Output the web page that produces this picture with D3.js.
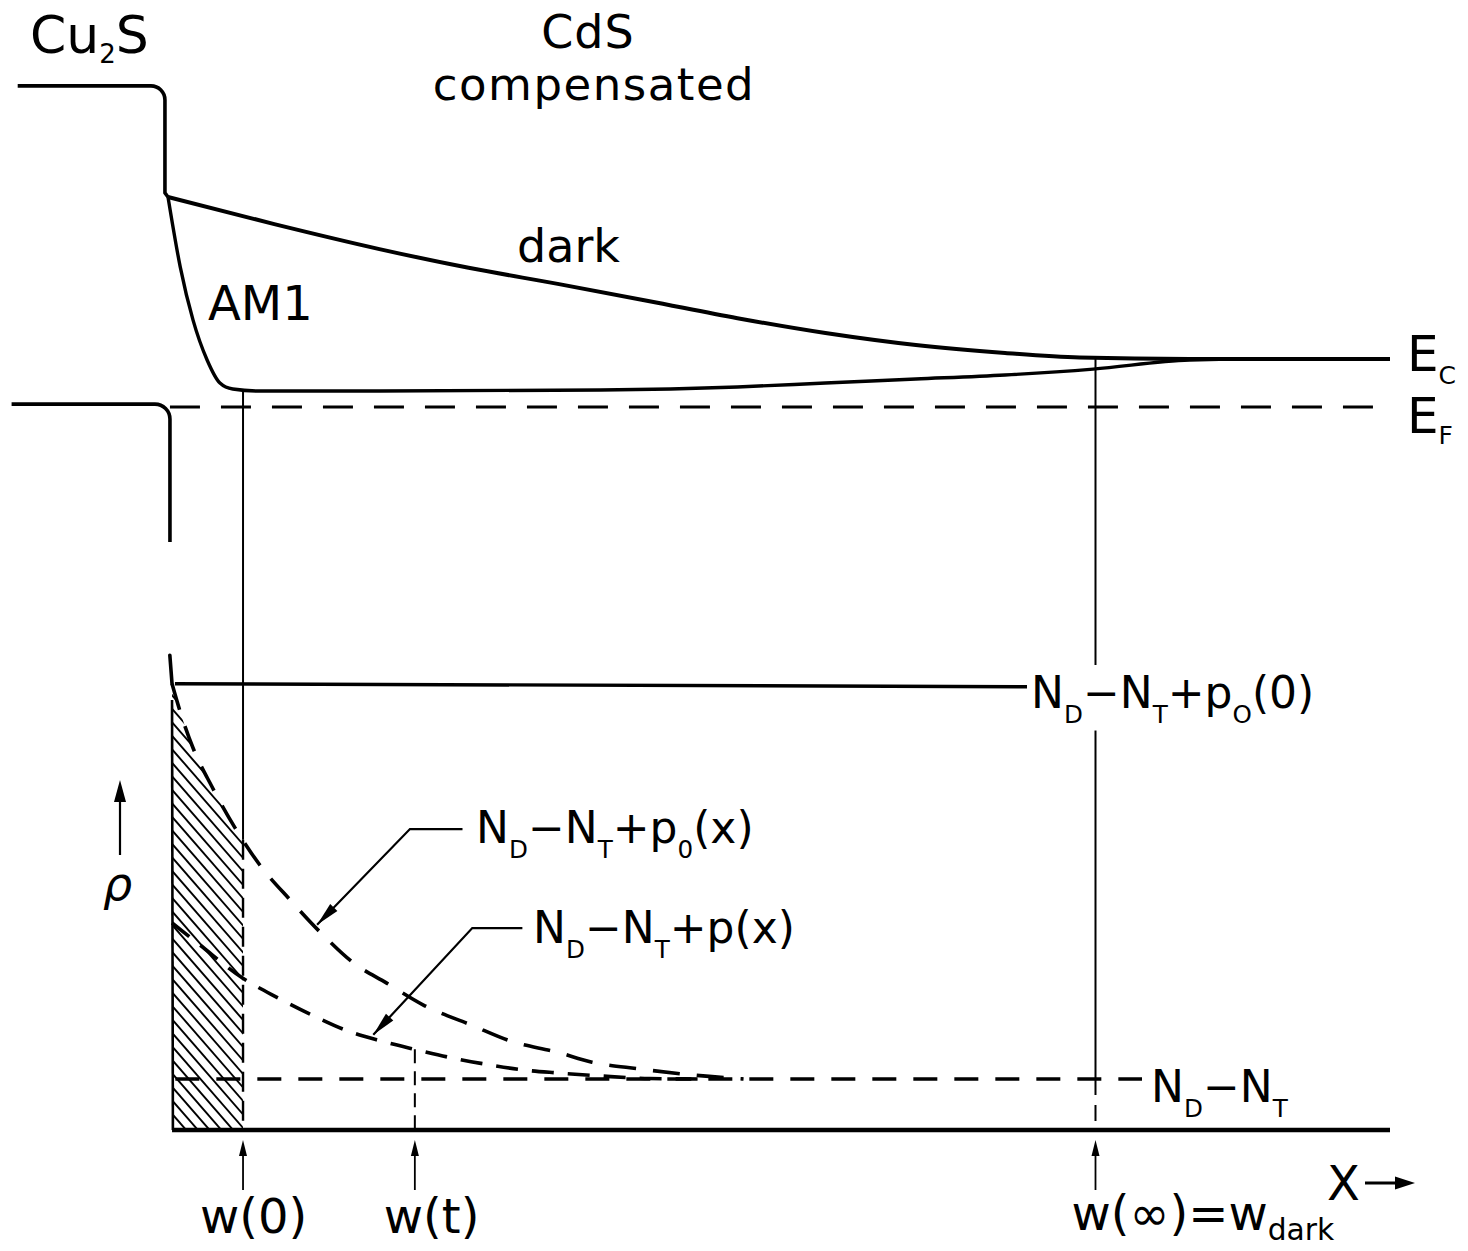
<!DOCTYPE html>
<html>
<head>
<meta charset="utf-8">
<script src="https://cdn.jsdelivr.net/npm/d3@7"></script>
<style>
  html, body { margin: 0; padding: 0; background: #fff; }
  svg { display: block; font-family: "DejaVu Sans", sans-serif; }
</style>
</head>
<body>
<svg id="chart" width="1468" height="1251"></svg>
<script>
// Depth coordinate: 0 = Cu2S/CdS interface, 100 = right end of the drawing.
// Energies are in units of (Ec - EF) of neutral CdS, with EF = 0.
const darkBand = [[0,4.375],[8.7,3.81],[17.3,3.29],[24.6,2.90],[32.0,2.56],[39.3,2.21],[46.6,1.85],
                  [53.8,1.54],[61.2,1.29],[68.5,1.125],[74.6,1.03],[83.6,1.0],[100,1.0]];
const am1Band = [[0,4.375],[1.0,2.92],[2.05,1.81],[3.2,0.98],[4.25,0.50],[5.3,0.375],[7.5,0.333],
                 [17.3,0.333],[35.4,0.354],[46.6,0.417],[53.8,0.5],[61.2,0.583],[68.5,0.667],
                 [75.7,0.79],[83.6,0.98],[88.5,1.0],[100,1.0]];
const cu2sUpper = [[-12.3,6.69],[-0.25,6.69],[-0.25,4.46]];
const cu2sLower = [[-12.8,0.06],[0.16,0.06],[0.16,-2.81]];
const fermiLevel = 0;

// Space charge density, in units of N_D - N_T.
const p0Profile = [[0.33,8.75],[1.0,8.2],[2.05,7.49],[3.6,6.73],[5.5,5.92],[7.5,5.20],[10.0,4.51],
                   [12.7,3.82],[15.1,3.29],[17.9,2.88],[20.9,2.45],[24.8,2.06],[28.2,1.73],
                   [31.8,1.53],[34.7,1.33],[38.5,1.20],[42.9,1.08],[47.1,1.0]];
const pProfile = [[0.33,4.06],[2.6,3.63],[6.1,2.98],[9.0,2.59],[11.9,2.24],[14.3,1.98],[17.2,1.76],
                  [20.4,1.57],[23.3,1.41],[26.5,1.27],[29.0,1.18],[31.8,1.12],[35.4,1.06],
                  [39.4,1.01],[43.5,1.0]];
const interfaceSpike = [[0.15,9.31],[0.33,8.75]];
const surfaceDensity = 8.75;
const netDonors = 1;
const widthNames = ["w(0)", "w(t)", "w(∞)"];
const widthValues = [6.14, 20.2, 75.9];

const x  = d3.scaleLinear().domain([0, 100]).range([168, 1390]);
const yE = d3.scaleLinear().domain([0, 1]).range([407, 359]);
const yR = d3.scaleLinear().domain([0, 1]).range([1130, 1079]);

const svg = d3.select("#chart");
const g = svg.append("g");
const INK = "#000";

function at(series, xv) {
  const i = d3.bisector(d => d[0]).left(series, xv);
  if (i <= 0) return series[0][1];
  if (i >= series.length) return series[series.length - 1][1];
  const a = series[i - 1], b = series[i];
  return a[1] + (b[1] - a[1]) * (xv - a[0]) / (b[0] - a[0]);
}

function arrowHead(x1, y1, x2, y2, len, wid) {
  const ang = Math.atan2(y2 - y1, x2 - x1);
  const bx = x2 - len * Math.cos(ang), by = y2 - len * Math.sin(ang);
  const nx = -Math.sin(ang) * wid / 2, ny = Math.cos(ang) * wid / 2;
  g.append("path")
    .attr("d", `M${x2},${y2}L${bx + nx},${by + ny}L${bx - nx},${by - ny}Z`)
    .attr("fill", INK);
}

function rich(xp, yp, size, parts, opts = {}) {
  const t = g.append("text").attr("x", xp).attr("y", yp)
    .attr("font-size", size).attr("fill", INK);
  if (opts.anchor) t.attr("text-anchor", opts.anchor);
  if (opts.italic) t.attr("font-style", "italic");
  if (opts.spacing) t.attr("letter-spacing", opts.spacing);
  let inSub = false;
  const subSize = size * (opts.subScale || 0.56);
  const drop = size * (opts.drop || 0.33);
  parts.forEach(p => {
    const sub = typeof p !== "string";
    const ts = t.append("tspan").text(sub ? p.s : p);
    if (sub) ts.attr("font-size", subSize);
    if (sub && !inSub) ts.attr("dy", drop);
    if (!sub && inSub) ts.attr("dy", -drop);
    inSub = sub;
  });
  return t;
}

// ---------- band diagram ----------
const lineE = d3.line().x(d => x(d[0])).y(d => yE(d[1])).curve(d3.curveMonotoneX);

function cornerPath(pts, r, toward) {
  const P = pts.map(d => [x(d[0]), yE(d[1])]);
  const p = d3.path();
  p.moveTo(P[0][0], P[0][1]);
  p.arcTo(P[1][0], P[1][1], P[2][0], P[2][1], r);
  p.lineTo(P[2][0], P[2][1]);
  if (toward) p.lineTo(x(toward[0]), yE(toward[1]));
  return p.toString();
}

g.append("path").attr("d", cornerPath(cu2sUpper, 14, darkBand[0]))
  .attr("fill", "none").attr("stroke", INK).attr("stroke-width", 3.6).attr("stroke-linejoin", "round");
g.append("path").attr("d", cornerPath(cu2sLower, 15))
  .attr("fill", "none").attr("stroke", INK).attr("stroke-width", 3.6);

g.append("path").attr("d", lineE(darkBand))
  .attr("fill", "none").attr("stroke", INK).attr("stroke-width", 4);
g.append("path").attr("d", lineE(am1Band))
  .attr("fill", "none").attr("stroke", INK).attr("stroke-width", 3.4);

g.append("line")
  .attr("x1", x(0.16)).attr("x2", x(100))
  .attr("y1", yE(fermiLevel)).attr("y2", yE(fermiLevel))
  .attr("stroke", INK).attr("stroke-width", 2.8).attr("stroke-dasharray", "30 21");

// ---------- charge density ----------
const lineR = d3.line().x(d => x(d[0])).y(d => yR(d[1])).curve(d3.curveMonotoneX);

// hatched charge between the interface and w(0)
const defs = svg.append("defs");
defs.append("clipPath").attr("id", "clipW0").append("rect")
  .attr("x", x(0.33)).attr("y", 600)
  .attr("width", x(widthValues[0]) - x(0.33)).attr("height", yR(0) - 600);
defs.append("clipPath").attr("id", "clipP0").append("path")
  .attr("d", d3.area().x(d => x(d[0])).y0(yR(0)).y1(d => yR(d[1])).curve(d3.curveMonotoneX)(p0Profile));
const hatch = g.append("g").attr("clip-path", "url(#clipW0)")
  .append("g").attr("clip-path", "url(#clipP0)");
d3.range(-12, 40).forEach(k => {
  const x1 = x(0.33) - 10, y1 = yR(surfaceDensity) + k * 13.5;
  hatch.append("line").attr("x1", x1).attr("y1", y1)
    .attr("x2", x1 + 130).attr("y2", y1 + 130 * 1.15)
    .attr("stroke", INK).attr("stroke-width", 1.9);
});

// left boundary of the CdS charge region
g.append("line").attr("x1", x(0.33)).attr("x2", x(0.4))
  .attr("y1", yR(8.43)).attr("y2", yR(0))
  .attr("stroke", INK).attr("stroke-width", 2.6);
g.append("path").attr("d", d3.line().x(d => x(d[0])).y(d => yR(d[1]))(interfaceSpike))
  .attr("fill", "none").attr("stroke", INK).attr("stroke-width", 3.6).attr("stroke-linecap", "round");

// surface level N_D - N_T + p0(0)
g.append("line").attr("x1", x(0.57)).attr("x2", 1027)
  .attr("y1", yR(surfaceDensity)).attr("y2", yR(surfaceDensity) + 3)
  .attr("stroke", INK).attr("stroke-width", 3.4);

// N_D - N_T level
g.append("line").attr("x1", x(0.6)).attr("x2", 1142)
  .attr("y1", yR(netDonors)).attr("y2", yR(netDonors))
  .attr("stroke", INK).attr("stroke-width", 3.4).attr("stroke-dasharray", "24 17");

g.append("path").attr("d", lineR(p0Profile))
  .attr("fill", "none").attr("stroke", INK).attr("stroke-width", 3.6).attr("stroke-dasharray", "27 17");
g.append("path").attr("d", lineR(pProfile))
  .attr("fill", "none").attr("stroke", INK).attr("stroke-width", 3.6).attr("stroke-dasharray", "22 14");

// depletion edges
const w0 = widthValues[0], wt = widthValues[1], wd = widthValues[2];
g.append("line").attr("x1", x(w0)).attr("x2", x(w0))
  .attr("y1", yE(at(am1Band, w0))).attr("y2", yR(at(p0Profile, w0)))
  .attr("stroke", INK).attr("stroke-width", 2);
g.append("line").attr("x1", x(w0)).attr("x2", x(w0))
  .attr("y1", yR(at(p0Profile, w0))).attr("y2", yR(0))
  .attr("stroke", INK).attr("stroke-width", 2.4).attr("stroke-dasharray", "20 9");
g.append("line").attr("x1", x(wt)).attr("x2", x(wt))
  .attr("y1", yR(at(pProfile, wt))).attr("y2", yR(0))
  .attr("stroke", INK).attr("stroke-width", 2).attr("stroke-dasharray", "14 8");
g.append("line").attr("x1", x(wd)).attr("x2", x(wd))
  .attr("y1", yE(at(darkBand, wd))).attr("y2", yR(netDonors))
  .attr("stroke", INK).attr("stroke-width", 2);
g.append("line").attr("x1", x(wd)).attr("x2", x(wd))
  .attr("y1", yR(netDonors)).attr("y2", yR(0))
  .attr("stroke", INK).attr("stroke-width", 2).attr("stroke-dasharray", "16 10");

// x axis
g.append("line").attr("x1", x(0.33)).attr("x2", x(100))
  .attr("y1", yR(0)).attr("y2", yR(0))
  .attr("stroke", INK).attr("stroke-width", 4.5);

// width markers
widthValues.forEach(v => {
  g.append("line").attr("x1", x(v)).attr("x2", x(v))
    .attr("y1", 1190).attr("y2", 1150).attr("stroke", INK).attr("stroke-width", 1.8);
  arrowHead(x(v), 1160, x(v), 1140, 16, 8);
});

// rho axis arrow
g.append("line").attr("x1", 120).attr("x2", 120).attr("y1", 855).attr("y2", 795)
  .attr("stroke", INK).attr("stroke-width", 2.2);
arrowHead(120, 805, 120, 780, 22, 12);

// X arrow
g.append("line").attr("x1", 1365).attr("x2", 1400).attr("y1", 1183).attr("y2", 1183)
  .attr("stroke", INK).attr("stroke-width", 3);
arrowHead(1390, 1183, 1415, 1183, 20, 13);

// leaders to the charge profiles
function leader(labelX, labelY, elbowX, tipX, series) {
  const tx = x(tipX), ty = yR(at(series, tipX)) - 4;
  const ex = x(elbowX), ey = yR(labelY);
  g.append("path").attr("d", `M${x(labelX)},${ey}L${ex},${ey}L${tx},${ty}`)
    .attr("fill", "none").attr("stroke", INK).attr("stroke-width", 2.2);
  arrowHead(ex, ey, tx, ty, 24, 10);
}
leader(24.1, 5.9, 19.8, 12.2, p0Profile);
leader(29.0, 3.96, 24.9, 16.8, pProfile);

// ---------- text ----------
rich(30, 53, 52, ["Cu", {s: "2"}, "S"], {subScale: 0.5, drop: 0.2});
rich(588, 48, 46, ["CdS"], {anchor: "middle", spacing: 1});
rich(594, 100, 45, ["compensated"], {anchor: "middle", spacing: 1.5});
rich(517, 262, 46, ["dark"]);
rich(208, 320, 48, ["AM1"]);
rich(1407, 371, 50, ["E", {s: "C"}], {subScale: 0.5, drop: 0.26});
rich(1407, 433, 50, ["E", {s: "F"}], {subScale: 0.5, drop: 0.22});

const surfLabel = rich(1031, 708, 44, ["N", {s: "D"}, "−N", {s: "T"}, "+p", {s: "O"}, "(0)"]);
const bb = surfLabel.node().getBBox();
g.insert("rect", "text").attr("x", bb.x - 2).attr("y", bb.y - 2)
  .attr("width", bb.width + 4).attr("height", bb.height + 4).attr("fill", "#fff");

rich(476, 843, 44, ["N", {s: "D"}, "−N", {s: "T"}, "+p", {s: "0"}, "(x)"]);
rich(533, 943, 44, ["N", {s: "D"}, "−N", {s: "T"}, "+p(x)"]);
rich(1151, 1102, 44, ["N", {s: "D"}, "−N", {s: "T"}]);
rich(103, 900, 46, ["ρ"], {italic: true});
rich(1327, 1200, 48, ["X"]);

rich(x(w0) - 43, 1233, 48, [widthNames[0]]);
rich(x(wt) - 31, 1233, 48, [widthNames[1]]);
rich(x(wd) - 24, 1230, 48, [widthNames[2] + "=w", {s: "dark"}], {subScale: 0.62, drop: 0.2});
</script>
</body>
</html>
